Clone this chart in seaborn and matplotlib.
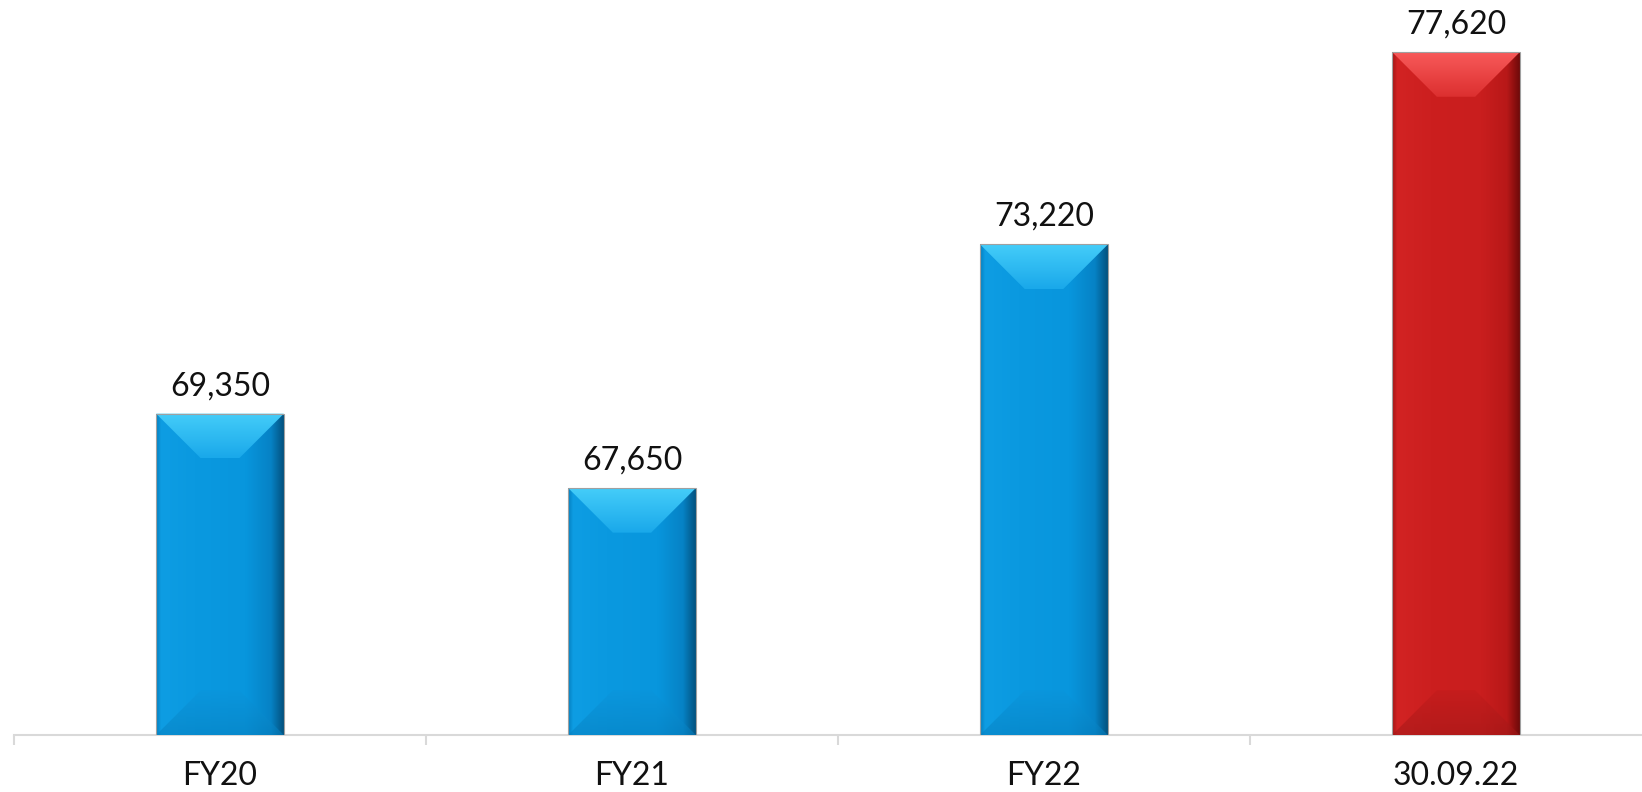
#!/usr/bin/env python3
"""
Bevelled bar chart of headcount by period (FY20 .. 30.09.22).
"""

import matplotlib

matplotlib.use("Agg")
import matplotlib.pyplot as plt
import numpy as np
import pandas as pd
import seaborn as sns
from matplotlib.colors import LinearSegmentedColormap
from matplotlib.patches import Polygon

CATEGORIES = ["FY20", "FY21", "FY22", "30.09.22"]
VALUES = [69350, 67650, 73220, 77620]
Y_MIN, Y_MAX = 62000, 78811

BLUE = {
    "body": ["#0580C0", "#0E9DE3", "#0A99E0", "#0896DD", "#0682C5", "#03527F"],
    "top": ["#19A8EA", "#45CDF9"],
    "bottom": ["#0780C0", "#0C96DC"],
}
RED = {
    "body": ["#A01515", "#D22323", "#CC1F1F", "#C91E1E", "#B81818", "#6E0A0A"],
    "top": ["#DC2F2F", "#F85A5A"],
    "bottom": ["#A01818", "#C21C1C"],
}
STYLES = [BLUE, BLUE, BLUE, RED]
BODY_STOPS = [0, 0.04, 0.3, 0.7, 0.9, 1.0]


def gradient_fill(ax, clip, extent, colors, vertical, zorder):
    cmap = LinearSegmentedColormap.from_list("g", colors)
    grad = np.linspace(0, 1, 256)
    grad = grad.reshape(-1, 1) if vertical else grad.reshape(1, -1)
    im = ax.imshow(grad, cmap=cmap, aspect="auto", extent=extent,
                   origin="lower", zorder=zorder, interpolation="bilinear")
    im.set_clip_path(clip)
    return im


def main() -> None:
    sns.set_theme(style="white")
    plt.rcParams["font.family"] = ["Lato", "DejaVu Sans"]

    df = pd.DataFrame({"period": CATEGORIES, "value": VALUES})

    fig = plt.figure(figsize=(16.42, 7.92), dpi=100)
    ax = fig.add_axes([14 / 1642, 57 / 792, 1 - 14 / 1642, 735 / 792])
    sns.barplot(
        data=df, x="period", y="value", hue="period",
        palette=[s["body"][2] for s in STYLES], legend=False,
        width=0.31, ax=ax, saturation=1,
    )

    ax.set_yticks([])
    ax.set_xlabel("")
    ax.set_ylabel("")
    ax.set_xticks(range(len(CATEGORIES)))
    ax.set_xticklabels(CATEGORIES)
    ax.set_xticks([-0.5, 0.5, 1.5, 2.5], minor=True)
    ax.set_ylim(Y_MIN, Y_MAX)
    ax.set_xlim(-0.5, -0.5 + (1642 - 14) / 412)

    fig.canvas.draw()
    bbox = ax.get_window_extent()
    x0l, x1l = ax.get_xlim()
    px_per_x = bbox.width / (x1l - x0l)
    px_per_y = bbox.height / (Y_MAX - Y_MIN)

    for patch, style, val in zip(ax.patches, STYLES, VALUES):
        x0, w = patch.get_x(), patch.get_width()
        top = patch.get_y() + patch.get_height()
        bottom = Y_MIN
        depth_px = 0.35 * w * px_per_x
        dx, dy = depth_px / px_per_x, depth_px / px_per_y

        gradient_fill(ax, patch, (x0, x0 + w, bottom, top),
                      list(zip(BODY_STOPS, style["body"])), False, 3)

        top_bevel = Polygon(
            [(x0, top), (x0 + w, top), (x0 + w - dx, top - dy), (x0 + dx, top - dy)],
            closed=True, facecolor="none", edgecolor="none", zorder=4,
        )
        bot_bevel = Polygon(
            [(x0, bottom), (x0 + w, bottom), (x0 + w - dx, bottom + dy), (x0 + dx, bottom + dy)],
            closed=True, facecolor="none", edgecolor="none", zorder=4,
        )
        ax.add_patch(top_bevel)
        ax.add_patch(bot_bevel)
        gradient_fill(ax, top_bevel, (x0, x0 + w, top - dy, top),
                      style["top"], True, 4)
        im = gradient_fill(ax, bot_bevel, (x0, x0 + w, bottom, bottom + dy),
                           style["bottom"], True, 4)
        im.set_alpha(0.55)

        patch.set_facecolor("none")
        patch.set_edgecolor("#A0A0A0")
        patch.set_linewidth(0.8)
        patch.set_zorder(5)

        ax.annotate(f"{val:,}", (x0 + w / 2, top), xytext=(0, 9),
                    textcoords="offset points", ha="center", va="bottom",
                    fontsize=23, color="#111111")

    for side in ("left", "right", "top"):
        ax.spines[side].set_visible(False)
    ax.spines["bottom"].set_color("#D9D9D9")
    ax.spines["bottom"].set_linewidth(1.5)

    ax.tick_params(axis="x", which="major", length=0, pad=19, labelsize=23,
                   labelcolor="#111111")
    ax.tick_params(axis="x", which="minor", length=7, width=1.5, color="#D9D9D9",
                   bottom=True)
    ax.set_facecolor("white")
    ax.grid(False)

    fig.savefig("out.png", dpi=100, facecolor="white")
    plt.close(fig)


if __name__ == "__main__":
    main()
